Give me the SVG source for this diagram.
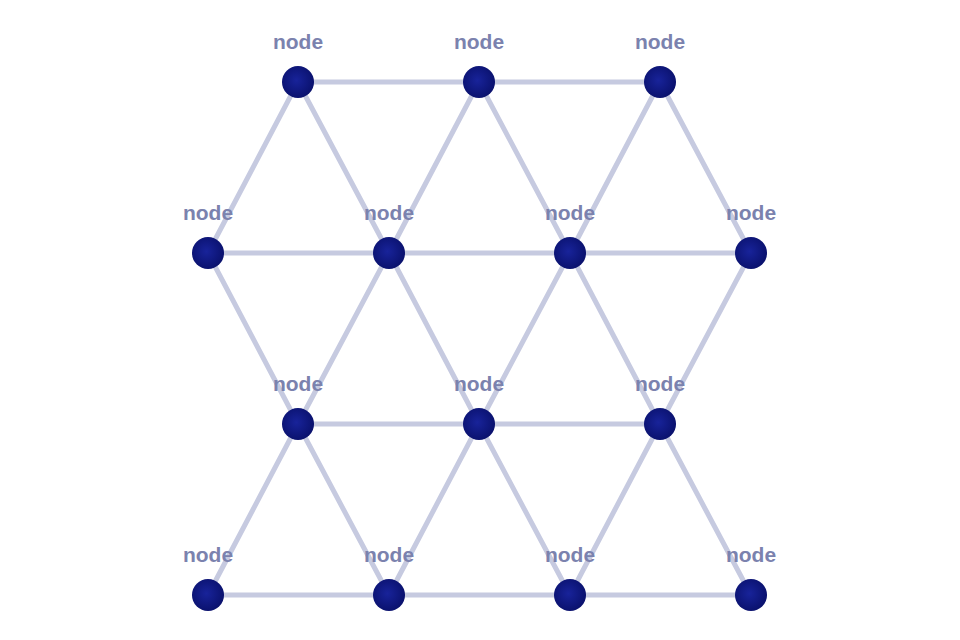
<svg xmlns="http://www.w3.org/2000/svg" width="960" height="640" viewBox="0 0 960 640">
<defs>
<radialGradient id="g" cx="0.45" cy="0.45" r="0.6"><stop offset="0" stop-color="#18239a"/><stop offset="1" stop-color="#09106a"/></radialGradient>
</defs>
<style>
.e{stroke:#c6cae0;stroke-width:5;fill:none}
.n{fill:url(#g)}
.t{font-family:"Liberation Sans",Arial,sans-serif;font-weight:bold;font-size:21px;fill:#7b82ae;text-anchor:middle}
</style>
<rect width="960" height="640" fill="#fff"/>
<g id="edges" class="e">
<path d="M298 82H660M208 253H751M298 424H660M208 595H751"/>
<path d="M298 82L208 253M298 82L389 253M479 82L389 253M479 82L570 253M660 82L570 253M660 82L751 253"/>
<path d="M208 253L298 424M389 253L298 424M389 253L479 424M570 253L479 424M570 253L660 424M751 253L660 424"/>
<path d="M298 424L208 595M298 424L389 595M479 424L389 595M479 424L570 595M660 424L570 595M660 424L751 595"/>
</g>
<g id="n1"><circle class="n" cx="298" cy="82" r="16"/><text class="t" x="298" y="49">node</text></g>
<g id="n2"><circle class="n" cx="479" cy="82" r="16"/><text class="t" x="479" y="49">node</text></g>
<g id="n3"><circle class="n" cx="660" cy="82" r="16"/><text class="t" x="660" y="49">node</text></g>
<g id="n4"><circle class="n" cx="208" cy="253" r="16"/><text class="t" x="208" y="220">node</text></g>
<g id="n5"><circle class="n" cx="389" cy="253" r="16"/><text class="t" x="389" y="220">node</text></g>
<g id="n6"><circle class="n" cx="570" cy="253" r="16"/><text class="t" x="570" y="220">node</text></g>
<g id="n7"><circle class="n" cx="751" cy="253" r="16"/><text class="t" x="751" y="220">node</text></g>
<g id="n8"><circle class="n" cx="298" cy="424" r="16"/><text class="t" x="298" y="391">node</text></g>
<g id="n9"><circle class="n" cx="479" cy="424" r="16"/><text class="t" x="479" y="391">node</text></g>
<g id="n10"><circle class="n" cx="660" cy="424" r="16"/><text class="t" x="660" y="391">node</text></g>
<g id="n11"><circle class="n" cx="208" cy="595" r="16"/><text class="t" x="208" y="562">node</text></g>
<g id="n12"><circle class="n" cx="389" cy="595" r="16"/><text class="t" x="389" y="562">node</text></g>
<g id="n13"><circle class="n" cx="570" cy="595" r="16"/><text class="t" x="570" y="562">node</text></g>
<g id="n14"><circle class="n" cx="751" cy="595" r="16"/><text class="t" x="751" y="562">node</text></g>
</svg>
